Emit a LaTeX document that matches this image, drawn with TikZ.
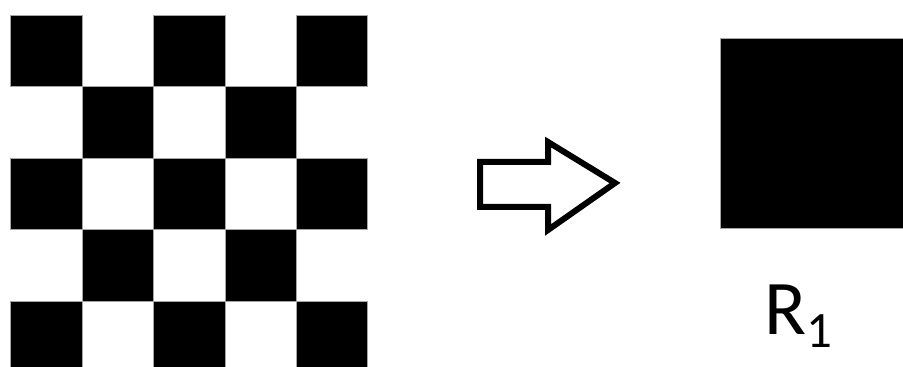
\documentclass[tikz,border=0pt]{standalone}
\usepackage{fontspec}
\setmainfont{Carlito}
\usepackage{tikz}

\tikzset{
  cell/.style={fill=black,draw=gray!70,line width=0.4pt},
  hollowarrow/.style={draw=black,line width=0.12cm,line join=miter,fill=white}
}

\begin{document}
\begin{tikzpicture}[x=0.02cm,y=-0.02cm]
			\useasboundingbox (0,0) rectangle (903,367);
			\clip (0,0) rectangle (903,367);
			% checkerboard, 5x5
			\foreach \i in {0,...,4}{
				\foreach \j in {0,...,4}{
					\pgfmathtruncatemacro{\parity}{mod(\i+\j,2)}
					\ifnum\parity=0
						\draw[cell] ({10.7+71.4*\i},{15+71.5*\j}) rectangle ++(71.4,71.5);
					\fi
				}
			}
			% hollow arrow
			\draw[hollowarrow] (480,162) -- (548,162) -- (548,142) -- (615,183)
				-- (548,230) -- (548,207) -- (480,207) -- cycle;
			% result square
			\draw[cell] (720.7,38.3) rectangle (910,228.3);
			\node[font=\fontsize{44}{44}\selectfont,anchor=base] (r1) at (798,335)
				{R\raisebox{-0.16em}{\fontsize{29}{29}\selectfont 1}};
		\end{tikzpicture}
\end{document}
